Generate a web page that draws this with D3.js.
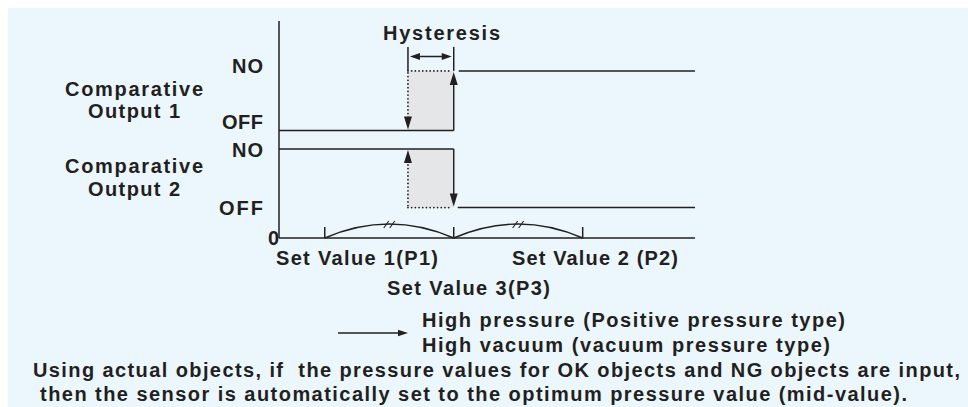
<!DOCTYPE html>
<html>
<head>
<meta charset="utf-8">
<script src="https://cdn.jsdelivr.net/npm/d3@7"></script>
<style>
  body { margin: 0; background: #fff; }
  svg text { font-family: "Liberation Sans", Arial, sans-serif; font-weight: bold; fill: #231f20; }
</style>
</head>
<body>
<div class="viz"></div>
<script>
// pressure positions (0..100 along the horizontal axis)
const setValueLabels = ["Set Value 1(P1)", "Set Value 2 (P2)", "Set Value 3(P3)"];
const setValues = [11, 73, 42];          // P1, P2, P3
const hysteresisLow = 31;                 // lower edge of the hysteresis band
const pressureMax = 100;

// signal levels (0..100 along the vertical axis), [OFF, NO]
const outputNames = [["Comparative", "Output 1"], ["Comparative", "Output 2"]];
const levelNames = ["OFF", "NO"];
const out1Levels = [49.5, 77];
const out2Levels = [14, 41];

const legendLines = ["High pressure (Positive pressure type)", "High vacuum (vacuum pressure type)"];
const noteLines = [
  "Using actual objects, if  the pressure values for OK objects and NG objects are input,",
  " then the sensor is automatically set to the optimum pressure value (mid-value)."
];

const width = 968, height = 407;
const ink = "#231f20";

const svg = d3.select(".viz").append("svg")
  .attr("width", width)
  .attr("height", height)
  .style("display", "block");

svg.append("rect")
  .attr("x", 8).attr("y", 8)
  .attr("width", width - 8).attr("height", height - 8)
  .attr("fill", "#ecf7fd");

const x = d3.scaleLinear().domain([0, pressureMax]).range([279, 695]);
const y = d3.scaleLinear().domain([0, 100]).range([238, 21]);

const P1 = setValues[0], P2 = setValues[1], P3 = setValues[2];

function line(g, x1, y1, x2, y2, dotted) {
  const l = g.append("line")
    .attr("x1", x1).attr("y1", y1).attr("x2", x2).attr("y2", y2)
    .attr("stroke", ink)
    .attr("stroke-width", dotted ? 1.8 : 1.5);
  if (dotted) l.attr("stroke-dasharray", "0 3.7").attr("stroke-linecap", "round");
  return l;
}

// triangle arrowhead with tip at (tx, ty) pointing in dir ("up","down","left","right")
function head(g, tx, ty, dir, len, hw) {
  let pts;
  if (dir === "up") pts = [[tx, ty], [tx - hw, ty + len], [tx + hw, ty + len]];
  if (dir === "down") pts = [[tx, ty], [tx - hw, ty - len], [tx + hw, ty - len]];
  if (dir === "left") pts = [[tx, ty], [tx + len, ty - hw], [tx + len, ty + hw]];
  if (dir === "right") pts = [[tx, ty], [tx - len, ty - hw], [tx - len, ty + hw]];
  g.append("path").attr("d", "M" + pts.join("L") + "Z").attr("fill", ink);
}

function label(txt, px, py, anchor, len) {
  const t = svg.append("text")
    .attr("x", px).attr("y", py)
    .attr("font-size", 20)
    .attr("text-anchor", anchor)
    .style("white-space", "pre")
    .text(txt);
  if (len) t.attr("textLength", len).attr("lengthAdjust", "spacing");
  return t;
}

const g = svg.append("g");

// grey hysteresis bands
[out1Levels, out2Levels].forEach(lv => {
  g.append("rect")
    .attr("x", x(hysteresisLow)).attr("y", y(lv[1]))
    .attr("width", x(P3) - x(hysteresisLow))
    .attr("height", y(lv[0]) - y(lv[1]))
    .attr("fill", "#e5e6e8");
});

// axes
line(g, x(0), y(100), x(0), y(0));
line(g, x(0), y(0), x(pressureMax), y(0));

// output 1: OFF until P3, switches on at P3, back off at hysteresis low
line(g, x(0), y(out1Levels[0]), x(P3), y(out1Levels[0]));
line(g, x(P3), y(out1Levels[0]), x(P3), y(out1Levels[1]) + 10);
head(g, x(P3), y(out1Levels[1]) + 1, "up", 13, 4);
line(g, x(P3) + 5, y(out1Levels[1]), x(pressureMax), y(out1Levels[1]));
line(g, x(hysteresisLow), y(out1Levels[1]), x(P3) - 2, y(out1Levels[1]), true);
line(g, x(hysteresisLow), y(out1Levels[1]) + 2, x(hysteresisLow), y(out1Levels[0]) - 10, true);
head(g, x(hysteresisLow), y(out1Levels[0]) - 1, "down", 13, 4);

// output 2: NO until P3, switches off at P3
line(g, x(0), y(out2Levels[1]), x(P3), y(out2Levels[1]));
line(g, x(P3), y(out2Levels[1]), x(P3), y(out2Levels[0]) - 10);
head(g, x(P3), y(out2Levels[0]) - 1, "down", 13, 4);
line(g, x(P3) + 4, y(out2Levels[0]), x(pressureMax), y(out2Levels[0]));
line(g, x(hysteresisLow), y(out2Levels[0]), x(P3) - 2, y(out2Levels[0]), true);
line(g, x(hysteresisLow), y(out2Levels[0]) - 2, x(hysteresisLow), y(out2Levels[1]) + 10, true);
head(g, x(hysteresisLow), y(out2Levels[1]) + 1, "up", 13, 4);

// hysteresis bracket
const yBr = y(out1Levels[1]) - 24, yArr = y(out1Levels[1]) - 14.5;
line(g, x(hysteresisLow), yBr, x(hysteresisLow), y(out1Levels[1]));
line(g, x(P3), yBr, x(P3), y(out1Levels[1]));
line(g, x(hysteresisLow) + 6, yArr, x(P3) - 6, yArr);
head(g, x(hysteresisLow) + 2, yArr, "left", 10, 3.5);
head(g, x(P3) - 2, yArr, "right", 10, 3.5);

// set value ticks and arcs
[P1, P3, P2].forEach(p => line(g, x(p), y(0), x(p), y(0) - 11));
[[P1, P3], [P3, P2]].forEach(([a, b]) => {
  const xa = x(a), xb = x(b), xm = (xa + xb) / 2;
  g.append("path")
    .attr("d", `M${xa},${y(0)} Q${xm},${y(0) - 28} ${xb},${y(0)}`)
    .attr("fill", "none").attr("stroke", ink).attr("stroke-width", 1.4);
  [-3, 3].forEach(dx => line(g, xm + dx - 2.5, y(0) - 10, xm + dx + 2.5, y(0) - 17).attr("stroke-width", 1.1));
});

// texts
label("Hysteresis", 383, 40, "start", 117);
label(levelNames[1], 263, 73, "end", 31);
label(levelNames[0], 263, 129, "end", 41);
label(levelNames[1], 263, 157, "end", 31);
label(levelNames[0], 263, 215, "end", 44);
label("0", 268, 245, "start");

const outY = [[96, 118], [173, 196]];
outputNames.forEach((nm, i) => {
  label(nm[0], 65, outY[i][0], "start", 138);
  label(nm[1], 88, outY[i][1], "start", 92);
});

label(setValueLabels[0], 276, 265, "start", 162);
label(setValueLabels[1], 512, 265, "start", 166);
label(setValueLabels[2], 387, 295, "start", 163);

line(g, 338, 333, 400, 333);
head(g, 408, 333, "right", 10, 3.2);
label(legendLines[0], 422, 327, "start", 423);
label(legendLines[1], 422, 352, "start", 408);

label(noteLines[0], 33, 377, "start", 927);
label(noteLines[1], 33, 401, "start", 874);
</script>
</body>
</html>
